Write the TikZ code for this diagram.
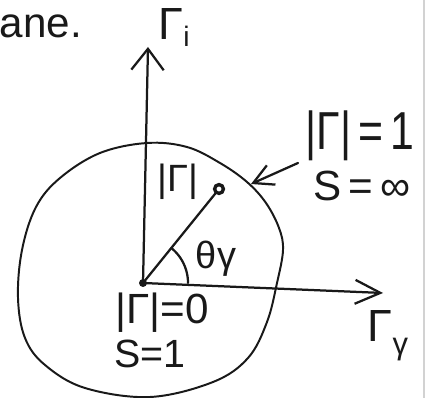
\documentclass[tikz,border=0pt]{standalone}
\usepackage{fontspec}
\setmainfont{Liberation Sans}
\usetikzlibrary{arrows.meta}
\tikzset{
  ink/.style={draw=black!90, line width=1.6pt, line cap=round, line join=round},
  lbl/.style={inner sep=0pt, text=black!90},
  hollowdot/.style={circle, draw=black!90, line width=2.4pt, fill=white, minimum size=0.22cm, inner sep=0pt},
  soliddot/.style={circle, fill=black!90, minimum size=0.2cm, inner sep=0pt},
}
\begin{document}
\begin{tikzpicture}[x=0.025cm, y=-0.025cm]
\useasboundingbox[fill=white] (0,0) rectangle (426,398);
\draw[gray!35, line width=0.8pt] (424,0) -- (424,398);
% blob "circle"
\draw[ink, line width=1.4pt] plot[smooth cycle, tension=0.6] coordinates {
 (147,143) (100,153) (60,178) (36,207) (22,250) (18,298) (25,338) (45,365)
 (85,388) (150,397) (213,382) (248,358) (267,322) (277,283) (283,250)
 (279,228) (266,203) (247,182) (220,163) (187,147)};
% points
\coordinate (O) at (143,283);
\coordinate (Ti) at (148,47);
\coordinate (Tr) at (383,293);
\node[hollowdot] (P) at (219,189) {};
\coordinate (Ct) at (298,163);
\coordinate (Ch) at (251,184);
% axes
\draw[ink, -{Straight Barb[length=15pt, width=23pt]}] (O) -- (Ti);
\draw[ink, -{Straight Barb[length=18pt, width=17pt]}] (O) -- (Tr);
% radius line and angle arc
\draw[ink] (O) -- (P);
\draw[ink] plot[domain=0:51, samples=30] ({143+45*cos(\x)},{283-45*sin(\x)});
\node[soliddot] (Od) at (O) {};
% callout arrow
\draw[ink, -{Straight Barb[length=14pt, width=15pt]}] (Ct) -- (Ch);
% labels
\node[lbl, font=\fontsize{30}{30}\selectfont] (plane) at (41,26) {ane.};
\node[lbl, font=\fontsize{32}{32}\selectfont] (Gi) at (174,28) {Γ\raisebox{-5pt}{\fontsize{20}{20}\selectfont i}};
\node[lbl, font=\fontsize{32}{32}\selectfont] (Gr) at (388,336) {Γ\raisebox{-9pt}{\fontsize{22}{22}\selectfont γ}};
\node[lbl, font=\fontsize{27}{27}\selectfont] (absG) at (178,182) {|Γ|};
\node[lbl, font=\fontsize{27}{27}\selectfont] (th) at (216,259) {θγ};
\node[lbl, font=\fontsize{38}{38}\selectfont] (g1) at (360,136) {\scalebox{0.8}[1]{|Γ|\,=\,1}};
\node[lbl, font=\fontsize{30}{30}\selectfont] (s1) at (362,186) {S\,=\,∞};
\node[lbl, font=\fontsize{30}{30}\selectfont] (g0) at (162,313) {|Γ|=0};
\node[lbl, font=\fontsize{28}{28}\selectfont] (s0) at (150,354) {S=1};
\end{tikzpicture}
\end{document}
